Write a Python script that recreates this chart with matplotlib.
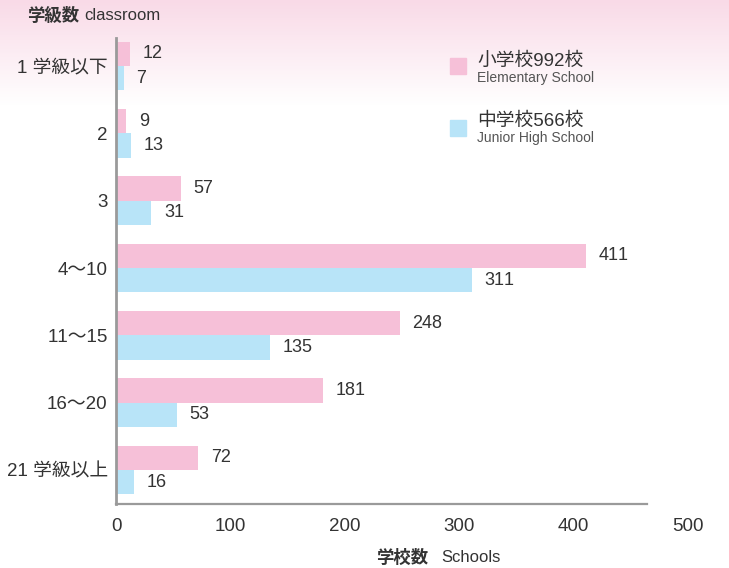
import numpy as np
import matplotlib
matplotlib.use('Agg')
from matplotlib import pyplot as plt

plt.rcParams['font.family'] = ['Liberation Sans', 'Noto Sans CJK JP']
# switch kerning off so "11" keeps even digit spacing
plt.rcParams['text.kerning_factor'] = 10

#%% DATA
categories = ['1 学級以下', '2', '3', '4～10', '11～15', '16～20', '21 学級以上']
elementary = [12, 9, 57, 411, 248, 181, 72]
junior = [7, 13, 31, 311, 135, 53, 16]
xticks = [0, 100, 200, 300, 400, 500]

pink = '#f6c0d8'
blue = '#b8e4f8'
text_col = '#333333'
grey = '#9a9a9a'

#%% FIGURE
fig = plt.figure(figsize=(7.29, 5.68), dpi=100)

# pink gradient at the top of the picture
bg = fig.add_axes([0, 0, 1, 1], zorder=0)
h = 568
grad = np.ones((h, 1, 3))
top = np.array([249, 218, 231]) / 255.0
for r in range(h):
    t = min(r / 105.0, 1.0)
    grad[r, 0, :] = top * (1 - t) + np.ones(3) * t
bg.imshow(grad, aspect='auto', extent=[0, 1, 0, 1])
bg.axis('off')

ax = fig.add_axes([116/729, 64/568, 572/729, 466/568], zorder=1)
ax.patch.set_alpha(0)

y = np.arange(len(categories))
bh = 0.36
ax.barh(y - bh/2, elementary, height=bh, color=pink, zorder=2)
ax.barh(y + bh/2, junior, height=bh, color=blue, zorder=2)

for i in range(len(categories)):
    ax.annotate(str(elementary[i]), (elementary[i], y[i] - bh/2), xytext=(9, 0),
                textcoords='offset points', va='center', ha='left',
                fontsize=13, color=text_col)
    ax.annotate(str(junior[i]), (junior[i], y[i] + bh/2), xytext=(9, 0),
                textcoords='offset points', va='center', ha='left',
                fontsize=13, color=text_col)

ax.set_xlim(0, 500)
ax.set_ylim(6.505, -0.416)
ax.set_yticks(y)
ax.set_yticklabels(categories, fontsize=13.5, color=text_col)
ax.set_xticks(xticks)
ax.set_xticklabels([str(v) for v in xticks], fontsize=13.5, color=text_col)
ax.tick_params(axis='both', length=0)
ax.tick_params(axis='y', pad=6)
ax.tick_params(axis='x', pad=10)

for s in ['top', 'right']:
    ax.spines[s].set_visible(False)
ax.spines['left'].set_color(grey)
ax.spines['left'].set_linewidth(2)
ax.spines['bottom'].set_color(grey)
ax.spines['bottom'].set_linewidth(1.6)
ax.spines['bottom'].set_bounds(0, 464)

#%% TITLES
fig.text(27/729, 1 - 15/568, '学級数', fontsize=12.5, color=text_col,
         fontweight='bold', va='center', ha='left')
fig.text(84/729, 1 - 15/568, 'classroom', fontsize=12, color=text_col,
         va='center', ha='left')
fig.text(428/729, 1 - 557/568, '学校数', fontsize=12.5, color=text_col,
         fontweight='bold', va='center', ha='right')
fig.text(441/729, 1 - 557/568, 'Schools', fontsize=12, color=text_col,
         va='center', ha='left')

#%% LEGEND
fig.patches.append(plt.Rectangle((450/729, 1 - 74/568), 16/729, 16/568,
                                 transform=fig.transFigure, color=pink, zorder=3))
fig.text(477/729, 1 - 61/568, '小学校992校', fontsize=13.5, color=text_col,
         va='center', ha='left')
fig.text(477/729, 1 - 78/568, 'Elementary School', fontsize=10, color='#555555',
         va='center', ha='left')
fig.patches.append(plt.Rectangle((450/729, 1 - 136/568), 16/729, 16/568,
                                 transform=fig.transFigure, color=blue, zorder=3))
fig.text(477/729, 1 - 121/568, '中学校566校', fontsize=13.5, color=text_col,
         va='center', ha='left')
fig.text(477/729, 1 - 138/568, 'Junior High School', fontsize=10, color='#555555',
         va='center', ha='left')

plt.savefig('out.png', dpi=100)
